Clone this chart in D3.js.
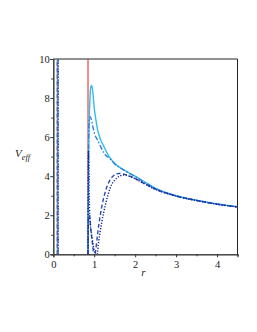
<!DOCTYPE html>
<html>
<head>
<meta charset="utf-8">
<script src="https://cdn.jsdelivr.net/npm/d3@7"></script>
<style>
body { margin:0; background:#fff; }
svg text { font-family: "Liberation Serif", "DejaVu Serif", serif; }
</style>
</head>
<body>
<svg width="257" height="332"></svg>
<script>
var w = 257, h = 332;
var m = {left:53.3, right:257-237.5, top:59, bottom:332-254.3};

// horizons (red vertical lines)
var horizons = [0.108, 0.848];

// outer curve values
var rSolid = [0.848,0.86,0.88,0.9,0.92,0.94,0.97,1.0,1.04,1.08,1.15,1.24,1.35,1.49,1.65,1.81,2.0,2.22,2.5,3.0,3.5,4.0,4.5];
var vSolid = [0,4.0,7.0,8.2,8.6,8.65,8.2,7.5,6.9,6.4,5.9,5.5,5.05,4.67,4.42,4.22,4.0,3.72,3.38,3.0,2.77,2.58,2.44];

var rDashDot = [0.848,0.856,0.87,0.9,0.93,0.97,1.02,1.08,1.16,1.24,1.33,1.41,1.5,1.65,1.81,2.0,2.22,2.5,3.0,3.5,4.0,4.5];
var vDashDot = [0,4.0,6.6,7.05,6.9,6.5,6.1,5.86,5.5,5.18,4.98,4.84,4.62,4.4,4.2,3.98,3.7,3.36,2.99,2.76,2.57,2.43];

var rDash = [0.848,0.86,0.88,0.92,0.97,1.0,1.03,1.08,1.14,1.2,1.3,1.45,1.6,1.7,1.85,2.0,2.2,2.5,3.0,3.5,4.0,4.5];
var vDash = [0,1.8,2.0,1.2,0.3,-0.3,0.1,1.0,1.9,2.6,3.4,3.98,4.14,4.12,4.02,3.88,3.65,3.33,2.99,2.76,2.57,2.43];

var rDot = [0.848,0.856,0.87,0.88,0.9,0.95,1.0,1.06,1.1,1.18,1.27,1.39,1.55,1.72,1.85,2.0,2.2,2.5,3.0,3.5,4.0,4.5];
var vDot = [0,5.3,4.5,2.8,1.7,0.8,0.2,-0.2,0.5,1.6,2.5,3.4,3.9,4.06,4.0,3.87,3.64,3.32,2.98,2.75,2.56,2.42];

// inner branches at the inner horizon
var rInner = [0.108, 0.108];
var vInner = [-1, 11];

var xTicks = [0,1,2,3,4];
var yTicks = [0,2,4,6,8,10];

var series = [
  {r:rSolid, v:vSolid, color:"#2fbdf2", dash:null, w:1.4},
  {r:rDashDot, v:vDashDot, color:"#2f7fd8", dash:"5,2,1.5,2", w:1.4},
  {r:rDash, v:vDash, color:"#2449b8", dash:"4,2.5", w:1.4},
  {r:rDot, v:vDot, color:"#101c8c", dash:"1.2,1.6", w:1.4}
];

var svg = d3.select("svg");
var x = d3.scaleLinear().domain([0,4.5]).range([m.left, w-m.right]);
var y = d3.scaleLinear().domain([0,10]).range([h-m.bottom, m.top]);

svg.append("clipPath").attr("id","clip").append("rect")
  .attr("x",x(0)).attr("y",y(10)).attr("width",x(4.5)-x(0)).attr("height",y(0)-y(10));

// frame top & right
svg.append("line").attr("x1",x(0)).attr("x2",x(4.5)).attr("y1",y(10)).attr("y2",y(10)).attr("stroke","#222").attr("stroke-width",1);
svg.append("line").attr("x1",x(4.5)).attr("x2",x(4.5)).attr("y1",y(10)).attr("y2",y(0)).attr("stroke","#222").attr("stroke-width",1);

var plot = svg.append("g").attr("clip-path","url(#clip)");

plot.selectAll(".hz").data(horizons).enter().append("line")
  .attr("x1",d=>x(d)).attr("x2",d=>x(d)).attr("y1",y(10)).attr("y2",y(0))
  .attr("stroke","#e8332a").attr("stroke-width",1.1);

var line = d3.line().x(d=>x(d[0])).y(d=>y(d[1]));

series.forEach(function(s, i){
  plot.append("path").datum(d3.zip(rInner, vInner))
    .attr("transform","translate("+(i%2 ? 0.6 : -0.6)+",0)")
    .attr("d",line).attr("fill","none").attr("stroke",s.color)
    .attr("stroke-width",1.1).attr("stroke-dasharray",s.dash).attr("opacity",0.75);
});

series.forEach(function(s){
  plot.append("path").datum(d3.zip(s.r, s.v))
    .attr("d",line.curve(d3.curveMonotoneX)).attr("fill","none").attr("stroke",s.color)
    .attr("stroke-width",s.w).attr("stroke-dasharray",s.dash);
});

// axes
var yAxis = svg.append("g").attr("transform","translate("+x(0)+",0)")
  .call(d3.axisLeft(y).tickValues(yTicks).tickSize(3).tickFormat(d3.format("d")));
svg.append("g").attr("transform","translate("+x(0)+",0)")
  .call(d3.axisLeft(y).tickValues([1,3,5,7,9]).tickSize(2).tickFormat(""));
var xAxis = svg.append("g").attr("transform","translate(0,"+y(0)+")")
  .call(d3.axisBottom(x).tickValues(xTicks).tickSize(3).tickFormat(d3.format("d")));
svg.append("g").attr("transform","translate(0,"+y(0)+")")
  .call(d3.axisBottom(x).tickValues([0.5,1.5,2.5,3.5,4.5]).tickSize(2).tickFormat(""));

svg.selectAll(".domain").attr("stroke","#333");
xAxis.select(".domain").attr("stroke","#888").attr("stroke-width",1.5);
svg.selectAll(".tick line").attr("stroke","#333");
svg.selectAll(".tick text").attr("font-size","10.5px").attr("fill","#222")
  .attr("font-family","'Liberation Serif', serif");
yAxis.selectAll(".tick text").attr("x",-3.5);

// labels
var yl = svg.append("text").attr("x",15).attr("y",157).attr("font-size","11px")
  .attr("font-style","italic").attr("fill","#222");
yl.append("tspan").text("V");
yl.append("tspan").attr("dy",3).attr("font-size","8.5px").text("eff");

svg.append("text").attr("x",x(2.2)).attr("y",276).attr("font-size","11px")
  .attr("font-style","italic").attr("fill","#222").attr("text-anchor","middle").text("r");
</script>
</body>
</html>
